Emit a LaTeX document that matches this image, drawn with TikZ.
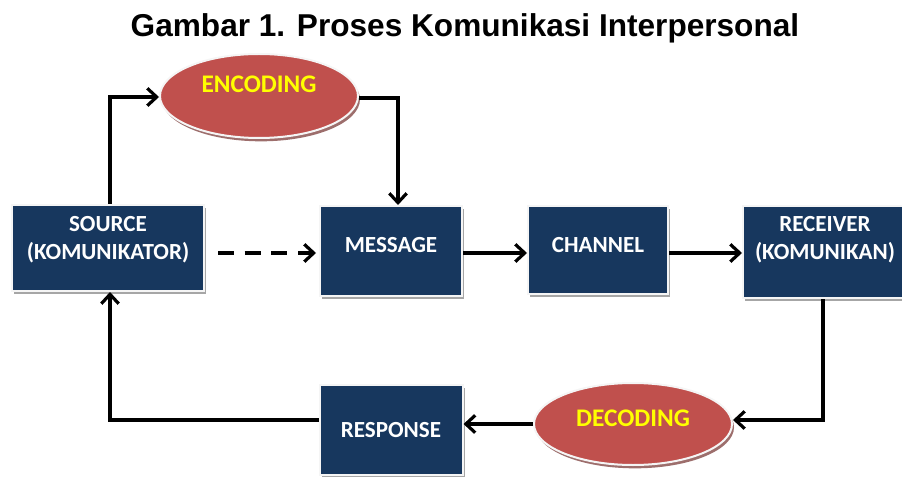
\documentclass[tikz,border=0pt]{standalone}
\usepackage{fontspec}
\setmainfont{Liberation Sans}
\newfontfamily\calib{Carlito}
\usetikzlibrary{shapes.geometric,arrows.meta,shadows}
\definecolor{navy}{HTML}{17375E}
\definecolor{redel}{HTML}{C0504D}
\definecolor{yel}{HTML}{FFFF00}
\tikzset{
  box/.style={rectangle, fill=navy, draw=gray!8, line width=1.5pt, inner sep=0pt,
    drop shadow={shadow xshift=1.5pt, shadow yshift=-2pt, fill=gray!70, opacity=1}},
  btxt/.style={text=white, font=\calib\bfseries\fontsize{17.3}{20.5}\selectfont, align=center},
  oval/.style={ellipse, fill=redel, draw=gray!8, line width=1.5pt, inner sep=0pt,
    drop shadow={shadow xshift=1.5pt, shadow yshift=-2.5pt, fill=redel!60!black, opacity=0.7}},
  lbl/.style={text=yel, font=\calib\bfseries\fontsize{19}{22}\selectfont},
  conn/.style={line width=2.8pt, -{Straight Barb[length=7pt,width=13pt,line width=2.4pt]}}
}
\begin{document}
\begin{tikzpicture}[x=0.75pt,y=-0.75pt]
\useasboundingbox (0,0) rectangle (902,477);
\node[font=\bfseries\fontsize{23.7}{26}\selectfont] (title) at (465,28) {Gambar 1. Proses Komunikasi Interpersonal};

\node[box, minimum width=192*0.75pt, minimum height=86*0.75pt] (src) at (108,248) {};
\node[btxt, anchor=north] (srct) at (108,212) {SOURCE\\(KOMUNIKATOR)};
\node[box, minimum width=142*0.75pt, minimum height=90*0.75pt] (msg) at (391,251) {};
\node[btxt] (msgt) at (391,245) {MESSAGE};
\node[box, minimum width=140*0.75pt, minimum height=88*0.75pt] (chn) at (598,250) {};
\node[btxt] (chnt) at (598,245) {CHANNEL};
\node[box, minimum width=164*0.75pt, minimum height=92*0.75pt] (rcv) at (825,252) {};
\node[btxt, anchor=north] (rcvt) at (825,212) {RECEIVER\\(KOMUNIKAN)};
\node[box, minimum width=143*0.75pt, minimum height=90*0.75pt] (rsp) at (391,430) {};
\node[btxt] (rspt) at (391,430) {RESPONSE};

\node[oval, minimum width=198*0.75pt, minimum height=84*0.75pt] (enc) at (259,96) {};
\node[lbl] (enct) at (259,84) {ENCODING};
\node[oval, minimum width=198*0.75pt, minimum height=82*0.75pt] (dec) at (633,424) {};
\node[lbl] (dect) at (633,418) {DECODING};

\coordinate (c1) at (110,97);
\coordinate (c2) at (398,98);
\coordinate (c3) at (823,420);
\coordinate (c4) at (110,420);
\coordinate (d1) at (218,253);
\coordinate (d2) at (316,253);

\draw[conn] (src.north -| c1) -- (c1) -- (enc.west |- c1);
\draw[conn] (enc.east |- c2) -- (c2) -- (msg.north -| c2);
\draw[conn, dash pattern=on 12pt off 8pt] (d1) -- (d2);
\draw[conn] (msg.east |- d1) -- (chn.west |- d1);
\draw[conn] (chn.east |- d1) -- (rcv.west |- d1);
\draw[conn] (rcv.south -| c3) -- (c3) -- (dec.east |- c3);
\draw[conn] (dec.west) -- (rsp.east |- dec.west);
\draw[conn] (rsp.west |- c4) -- (c4) -- (src.south -| c4);
\end{tikzpicture}
\end{document}
